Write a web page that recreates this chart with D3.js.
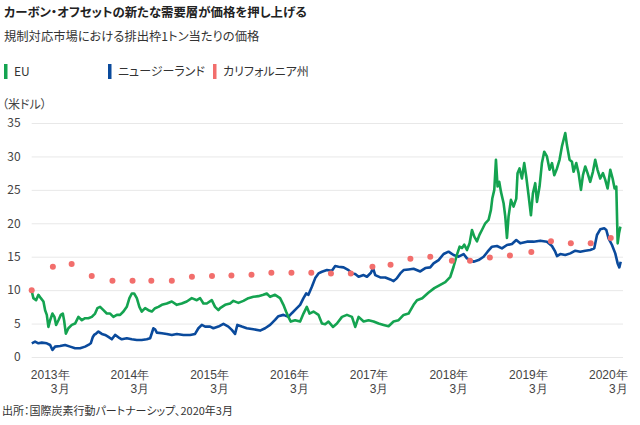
<!DOCTYPE html>
<html><head><meta charset="utf-8">
<script src="https://cdn.jsdelivr.net/npm/d3@7"></script>
<style>
body{margin:0;background:#fff;}
svg{font-family:"Noto Sans CJK JP","Noto Sans",sans-serif;font-feature-settings:"palt";}
</style></head>
<body><svg id="c" width="640" height="425"></svg>
<script>
// ---- data (decimal year, US$) ----
const euPrice = [[2012.870,9.8],[2012.890,8.8],[2012.924,8.5],[2012.953,9.3],[2012.983,8.8],[2013.016,8.3],[2013.037,7.0],[2013.058,6.3],[2013.078,4.5],[2013.100,5.5],[2013.129,6.5],[2013.154,6.0],[2013.175,4.8],[2013.204,5.5],[2013.234,6.3],[2013.259,6.5],[2013.275,5.5],[2013.297,3.5],[2013.329,4.3],[2013.372,4.8],[2013.413,5.0],[2013.455,6.0],[2013.498,5.5],[2013.539,5.8],[2013.580,5.8],[2013.623,6.0],[2013.664,6.5],[2013.693,7.3],[2013.727,7.5],[2013.769,7.0],[2013.811,6.5],[2013.853,6.5],[2013.894,6.0],[2013.937,6.3],[2013.978,6.3],[2014.020,6.8],[2014.062,7.5],[2014.095,8.8],[2014.125,9.5],[2014.154,9.5],[2014.188,8.8],[2014.220,7.5],[2014.250,6.8],[2014.292,7.3],[2014.333,7.0],[2014.376,6.8],[2014.417,7.3],[2014.459,7.5],[2014.502,7.8],[2014.564,8.0],[2014.627,8.3],[2014.690,7.8],[2014.752,8.0],[2014.815,8.3],[2014.878,8.8],[2014.941,8.5],[2014.982,8.8],[2015.024,8.0],[2015.066,8.0],[2015.129,8.5],[2015.170,7.5],[2015.212,7.0],[2015.233,7.3],[2015.296,7.8],[2015.359,8.0],[2015.400,8.4],[2015.463,8.1],[2015.526,8.4],[2015.588,8.8],[2015.651,9.0],[2015.714,9.1],[2015.777,9.3],[2015.819,9.5],[2015.861,9.0],[2015.923,9.3],[2015.986,8.8],[2016.028,7.8],[2016.061,6.8],[2016.090,6.0],[2016.120,5.3],[2016.174,5.5],[2016.237,5.3],[2016.279,6.5],[2016.321,7.5],[2016.354,6.5],[2016.404,6.8],[2016.467,6.3],[2016.510,5.0],[2016.551,4.9],[2016.592,5.3],[2016.648,4.5],[2016.698,5.0],[2016.761,6.0],[2016.823,6.3],[2016.886,6.0],[2016.927,4.5],[2016.969,6.0],[2017.032,5.3],[2017.094,5.5],[2017.157,5.3],[2017.220,5.0],[2017.283,4.8],[2017.345,4.6],[2017.408,5.3],[2017.471,5.5],[2017.534,6.3],[2017.596,6.5],[2017.659,7.8],[2017.702,8.5],[2017.768,8.8],[2017.844,9.6],[2017.919,10.3],[2017.994,10.8],[2018.057,11.2],[2018.120,12.0],[2018.161,13.5],[2018.204,15.3],[2018.237,16.5],[2018.267,16.3],[2018.295,16.8],[2018.329,16.0],[2018.362,17.0],[2018.392,19.0],[2018.421,18.0],[2018.455,17.3],[2018.487,18.3],[2018.517,19.0],[2018.559,20.0],[2018.600,20.5],[2018.630,22.0],[2018.647,23.7],[2018.672,25.0],[2018.693,29.5],[2018.713,25.5],[2018.734,26.2],[2018.756,24.7],[2018.789,23.0],[2018.810,21.0],[2018.831,17.8],[2018.851,21.0],[2018.881,23.5],[2018.914,22.5],[2018.948,23.7],[2018.964,27.5],[2018.989,28.2],[2019.019,26.7],[2019.048,29.0],[2019.073,27.0],[2019.102,24.2],[2019.132,21.2],[2019.157,24.5],[2019.186,26.0],[2019.208,23.2],[2019.240,25.5],[2019.270,29.0],[2019.299,30.7],[2019.333,30.0],[2019.366,28.0],[2019.396,29.0],[2019.425,27.2],[2019.459,28.2],[2019.491,29.5],[2019.521,31.5],[2019.542,32.5],[2019.563,33.5],[2019.584,31.7],[2019.617,29.5],[2019.647,29.2],[2019.667,27.7],[2019.701,29.0],[2019.730,27.5],[2019.760,25.0],[2019.785,27.2],[2019.814,28.5],[2019.843,27.5],[2019.876,26.2],[2019.910,27.7],[2019.939,29.5],[2019.968,28.0],[2020.002,26.7],[2020.036,27.5],[2020.065,26.5],[2020.094,25.2],[2020.128,28.0],[2020.157,26.7],[2020.182,25.2],[2020.203,25.5],[2020.212,21.0],[2020.220,17.0],[2020.237,18.5],[2020.254,19.5]];

const nzPrice = [[2012.870,2.05],[2012.911,2.3],[2012.953,2.05],[2012.995,2.15],[2013.058,2.05],[2013.100,1.8],[2013.129,1.05],[2013.162,1.55],[2013.225,1.65],[2013.288,1.8],[2013.351,1.55],[2013.413,1.3],[2013.476,1.3],[2013.539,1.55],[2013.580,1.8],[2013.610,2.05],[2013.636,3.0],[2013.652,3.3],[2013.677,3.5],[2013.706,3.8],[2013.749,3.45],[2013.790,3.3],[2013.831,3.0],[2013.874,2.65],[2013.915,3.3],[2013.957,2.95],[2013.999,2.65],[2014.062,2.8],[2014.125,2.65],[2014.188,2.55],[2014.250,2.55],[2014.313,2.65],[2014.355,2.8],[2014.376,3.55],[2014.396,4.3],[2014.417,4.15],[2014.439,3.65],[2014.502,3.55],[2014.564,3.45],[2014.627,3.3],[2014.690,3.45],[2014.773,3.3],[2014.857,3.3],[2014.919,3.45],[2014.961,4.3],[2015.004,4.8],[2015.045,4.55],[2015.108,4.55],[2015.149,4.3],[2015.212,4.55],[2015.275,4.95],[2015.337,4.55],[2015.380,4.05],[2015.421,3.45],[2015.450,4.8],[2015.506,4.55],[2015.568,4.3],[2015.651,4.15],[2015.735,3.95],[2015.798,4.3],[2015.861,4.8],[2015.923,5.55],[2015.965,6.1],[2016.028,6.3],[2016.090,6.0],[2016.133,6.55],[2016.196,7.3],[2016.237,7.8],[2016.279,8.8],[2016.313,9.5],[2016.341,9.3],[2016.384,10.5],[2016.426,11.8],[2016.467,12.5],[2016.510,12.75],[2016.572,13.0],[2016.635,12.9],[2016.676,13.6],[2016.718,13.5],[2016.781,13.4],[2016.843,13.0],[2016.886,12.5],[2016.927,12.4],[2016.969,12.0],[2017.032,12.25],[2017.074,12.0],[2017.124,12.6],[2017.150,13.3],[2017.178,12.25],[2017.241,11.9],[2017.304,11.9],[2017.367,11.6],[2017.408,11.35],[2017.451,11.8],[2017.492,12.5],[2017.534,13.0],[2017.596,13.1],[2017.659,13.2],[2017.743,12.8],[2017.806,13.3],[2017.868,13.4],[2017.910,14.0],[2017.973,14.5],[2018.036,15.4],[2018.098,15.75],[2018.161,15.25],[2018.224,15.0],[2018.287,15.4],[2018.329,14.75],[2018.371,14.5],[2018.412,14.25],[2018.475,14.5],[2018.538,15.0],[2018.588,15.75],[2018.643,16.5],[2018.706,16.6],[2018.768,16.25],[2018.831,16.75],[2018.894,16.9],[2018.948,17.5],[2018.998,17.0],[2019.082,17.25],[2019.165,17.25],[2019.249,17.4],[2019.333,17.25],[2019.396,16.6],[2019.437,15.75],[2019.459,15.1],[2019.500,15.4],[2019.563,15.25],[2019.626,15.5],[2019.689,15.9],[2019.751,15.75],[2019.814,15.9],[2019.876,16.0],[2019.927,16.25],[2019.961,18.25],[2020.002,19.1],[2020.052,19.25],[2020.078,19.0],[2020.106,17.75],[2020.149,16.75],[2020.190,15.5],[2020.220,14.0],[2020.241,13.4],[2020.258,14.25]];

const caDates = ["2012-11-14","2013-02-19","2013-05-16","2013-08-16","2013-11-19","2014-02-19","2014-05-16","2014-08-18","2014-11-18","2015-02-18","2015-05-18","2015-08-18","2015-11-17","2016-02-17","2016-05-18","2016-08-16","2016-11-15","2017-02-22","2017-05-16","2017-08-15","2017-11-14","2018-02-21","2018-05-15","2018-08-14","2018-11-14","2019-02-20","2019-05-21","2019-08-20","2019-11-19","2020-02-19"];
const caValues = [10.0,13.5,13.9,12.1,11.4,11.4,11.4,11.4,12.0,12.1,12.2,12.3,12.6,12.6,12.6,12.5,12.5,13.5,13.8,14.7,15.0,14.4,14.4,14.9,15.2,15.7,17.3,17.0,17.0,17.8];

const yTicks = [0,5,10,15,20,25,30,35];
const xTickYears = [2013,2014,2015,2016,2017,2018,2019,2020];
const seriesNames = ["EU","ニュージーランド","カリフォルニア州"];
const colors = ["#14a350","#0a4a9c","#f26e6c"];
const titleText = "カーボン・オフセットの新たな需要層が価格を押し上げる";
const subtitleText = "規制対応市場における排出枠1トン当たりの価格";
const unitText = "（米ドル）";
const sourceText = "出所：国際炭素行動パートナーシップ、2020年3月";

// ---- helpers ----
function yd(v){const y=Math.floor(v);const s=new Date(y,0,1),e=new Date(y+1,0,1);return new Date(+s+(v-y)*(e-s));}
const parse = d3.timeParse("%Y-%m-%d");

const svg = d3.select("#c");
const L=31.7, R=623, T=123, B=357;
const x = d3.scaleTime().domain([parse("2012-11-14"), parse("2020-04-15")]).range([L,R]);
const y = d3.scaleLinear().domain([0,35]).range([B,T]);

// title
svg.append("text").attr("x",4).attr("y",17).attr("font-size",12.4).attr("font-weight",700).attr("fill","#222").text(titleText);
svg.append("text").attr("x",4).attr("y",41).attr("font-size",12.3).attr("fill","#333").text(subtitleText);

// legend
const legX=[4,108,213];
seriesNames.forEach((n,i)=>{
  svg.append("rect").attr("x",legX[i]).attr("y",64).attr("width",3.5).attr("height",15).attr("fill",colors[i]);
  svg.append("text").attr("x",legX[i]+10).attr("y",76).attr("font-size",12).attr("fill","#333").text(n);
});

// unit
svg.append("text").attr("x",2).attr("y",109).attr("font-size",12).attr("fill","#444").text(unitText);

// y axis + grid
const yAxis = d3.axisLeft(y).tickValues(yTicks).tickSize(-(R-L)).tickPadding(11);
const gy = svg.append("g").attr("transform",`translate(${L},0)`).call(yAxis);
gy.select(".domain").remove();
gy.selectAll(".tick line").attr("stroke","#e8e8e8").attr("stroke-width",1);
gy.selectAll(".tick text").attr("font-size",12).attr("fill","#444").attr("font-family","'Noto Sans CJK JP',sans-serif");

// x axis labels (year line and month line as separate texts)
const xAxis = d3.axisBottom(x).tickValues(xTickYears.map(yr=>new Date(yr,2,1))).tickSize(0);
const gx = svg.append("g").attr("transform",`translate(0,${B})`).call(xAxis);
gx.select(".domain").remove();
gx.selectAll(".tick text").remove();
gx.selectAll(".tick").each(function(d){
  const g=d3.select(this);
  g.append("text").attr("text-anchor","end").attr("font-size",12).attr("fill","#444").attr("x",14).attr("y",22).text(d.getFullYear()+"年");
  g.append("text").attr("text-anchor","end").attr("font-size",12).attr("fill","#444").attr("x",14).attr("y",36).text((d.getMonth()+1)+"月");
});

// lines
const line = d3.line().x(d=>x(yd(d[0]))).y(d=>y(d[1]));
svg.append("path").datum(nzPrice).attr("d",line).attr("fill","none").attr("stroke",colors[1]).attr("stroke-width",2.6).attr("stroke-linejoin","round");
svg.append("path").datum(euPrice).attr("d",line).attr("fill","none").attr("stroke",colors[0]).attr("stroke-width",2.6).attr("stroke-linejoin","round");

// dots
svg.append("g").selectAll("circle").data(caDates.map((d,i)=>[parse(d),caValues[i]])).join("circle")
  .attr("cx",d=>x(d[0])).attr("cy",d=>y(d[1])).attr("r",3).attr("fill",colors[2]);

// source
svg.append("text").attr("x",2).attr("y",415).attr("font-size",11).attr("fill","#333").text(sourceText);
</script></body></html>
